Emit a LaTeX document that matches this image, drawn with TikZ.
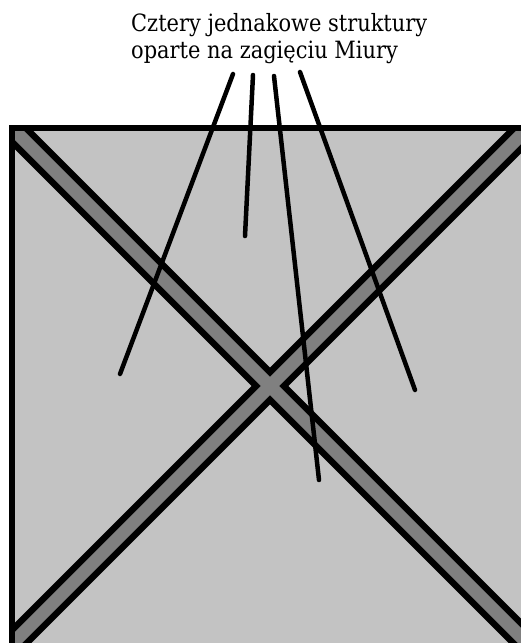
\documentclass[tikz,border=0pt]{standalone}
\usepackage{fontspec}
\setmainfont{DejaVu Serif}[FakeStretch=0.88]
\usetikzlibrary{positioning}
\definecolor{panelgray}{HTML}{C3C3C3}
\definecolor{bandgray}{HTML}{808080}

\begin{document}
\begin{tikzpicture}[x=1pt,y=-1pt,
    bandedge/.style={line width=26pt, black},
    bandcore/.style={line width=13pt, bandgray},
    pointer/.style={line width=4.5pt, black, line cap=round}]
  \useasboundingbox (0,0) rectangle (520,643);

  % the square panel
  \coordinate (TL) at (12,128);
  \coordinate (TR) at (528,128);
  \coordinate (BL) at (12,644);
  \coordinate (BR) at (528,644);
  \fill[panelgray] (TL) rectangle (BR);

  % the two diagonal folds
  \begin{scope}
    \clip (TL) rectangle (BR);
    \draw[bandedge] (TL) -- (BR);
    \draw[bandedge] (TR) -- (BL);
    \draw[bandcore] (TL) -- (BR);
    \draw[bandcore] (TR) -- (BL);
  \end{scope}
  \draw[line width=6pt] (BL) -- (TL) -- (TR);

  % label and its four pointers
  \node[anchor=north west, align=left, inner sep=0pt, font=\fontsize{23.8}{27.5}\selectfont] (lbl) at (131,13)
    {Cztery jednakowe struktury\\oparte na zagięciu Miury};
  \coordinate (s1) at (233,74);
  \coordinate (s2) at (253,75);
  \coordinate (s3) at (274,76);
  \coordinate (s4) at (300,72);
  \coordinate (e1) at (120,374);
  \coordinate (e2) at (245,236);
  \coordinate (e3) at (319,480);
  \coordinate (e4) at (415,390);
  \draw[pointer] (s1) -- (e1);
  \draw[pointer] (s2) -- (e2);
  \draw[pointer] (s3) -- (e3);
  \draw[pointer] (s4) -- (e4);
\end{tikzpicture}
\end{document}
